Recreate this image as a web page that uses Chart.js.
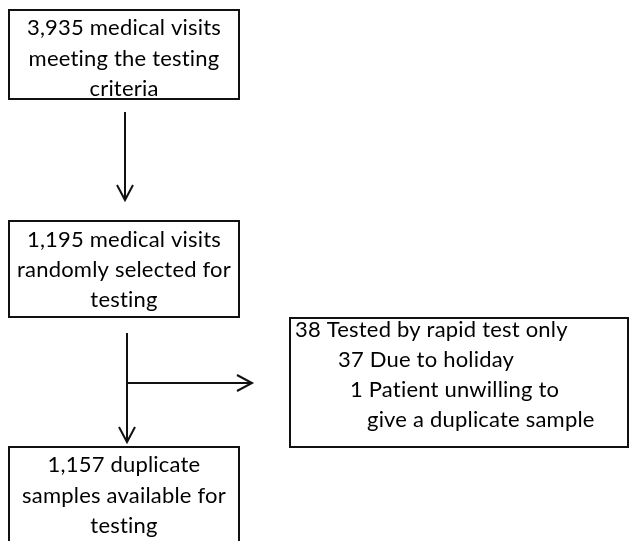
<!DOCTYPE html>
<html>
<head>
<meta charset="utf-8">
<script src="https://cdn.jsdelivr.net/npm/chart.js@4/dist/chart.umd.min.js"></script>
<style>
html,body{margin:0;padding:0;background:#fff;}
#wrap{width:629px;height:541px;}
</style>
</head>
<body>
<div id="wrap"><canvas id="c" width="629" height="541"></canvas></div>
<script>
// Flowchart content
const boxTexts = [
  ["3,935 medical visits", "meeting the testing", "criteria"],
  ["1,195 medical visits", "randomly selected for", "testing"],
  ["38 Tested by rapid test only", "37 Due to holiday", "1 Patient unwilling to", "give a duplicate sample"],
  ["1,157 duplicate", "samples available for", "testing"]
];
// Box geometry in page units [left, right, top, bottom]
const boxRects = [
  [9, 239, 10, 99],
  [9, 239, 221, 317],
  [290, 628, 318, 447],
  [9, 239, 447, 560]
];
// Text anchor per line: [x, baseline y, align]
const boxTextPos = [
  [[124, 35, "center"], [124, 66, "center"], [124, 96, "center"]],
  [[124, 247, "center"], [124, 277, "center"], [124, 307, "center"]],
  [[295, 337, "left"], [338, 367, "left"], [350, 397, "left"], [367, 427, "left"]],
  [[124, 472, "center"], [124, 503, "center"], [124, 533, "center"]]
];
// Connector lines [x1,y1,x2,y2]
const connectors = [
  [125, 112, 125, 200],
  [127, 333, 127, 442],
  [127, 383, 252, 383]
];
// Arrowheads: tip and two arm ends
const arrowHeads = [
  [[117, 185], [125, 200], [133, 185]],
  [[119, 427], [127, 442], [135, 427]],
  [[237, 375], [252, 383], [237, 391]]
];

const INK = '#111';
const datasets = [];
boxRects.forEach(r => {
  datasets.push({
    data: [{x:r[0],y:r[2]},{x:r[1],y:r[2]},{x:r[1],y:r[3]},{x:r[0],y:r[3]},{x:r[0],y:r[2]}],
    showLine: true, borderColor: INK, borderWidth: 2, pointRadius: 0, tension: 0, fill: false,
    borderJoinStyle: 'miter', borderCapStyle: 'square'
  });
});
connectors.forEach(c => {
  datasets.push({
    data: [{x:c[0],y:c[1]},{x:c[2],y:c[3]}],
    showLine: true, borderColor: INK, borderWidth: 2, pointRadius: 0, fill: false
  });
});
arrowHeads.forEach(a => {
  datasets.push({
    data: a.map(p => ({x:p[0], y:p[1]})),
    showLine: true, borderColor: INK, borderWidth: 2, pointRadius: 0, fill: false,
    borderJoinStyle: 'miter'
  });
});

const textPlugin = {
  id: 'boxText',
  afterDatasetsDraw(chart) {
    const ctx = chart.ctx;
    const xs = chart.scales.x, ys = chart.scales.y;
    ctx.save();
    ctx.fillStyle = '#000';
    ctx.font = '22px Lato, "Open Sans", sans-serif';
    if ('letterSpacing' in ctx) ctx.letterSpacing = '0.2px';
    ctx.textBaseline = 'alphabetic';
    boxTexts.forEach((lines, i) => {
      lines.forEach((t, j) => {
        const p = boxTextPos[i][j];
        ctx.textAlign = p[2];
        ctx.fillText(t, xs.getPixelForValue(p[0]), ys.getPixelForValue(p[1]));
      });
    });
    ctx.restore();
  }
};

new Chart(document.getElementById('c'), {
  type: 'scatter',
  data: { datasets },
  options: {
    responsive: false,
    animation: false,
    devicePixelRatio: 1,
    layout: { padding: 0 },
    plugins: { legend: { display: false }, tooltip: { enabled: false } },
    scales: {
      x: { type: 'linear', min: 0, max: 629, display: false },
      y: { type: 'linear', min: 0, max: 541, reverse: true, display: false }
    }
  },
  plugins: [textPlugin]
});
</script>
</body>
</html>
